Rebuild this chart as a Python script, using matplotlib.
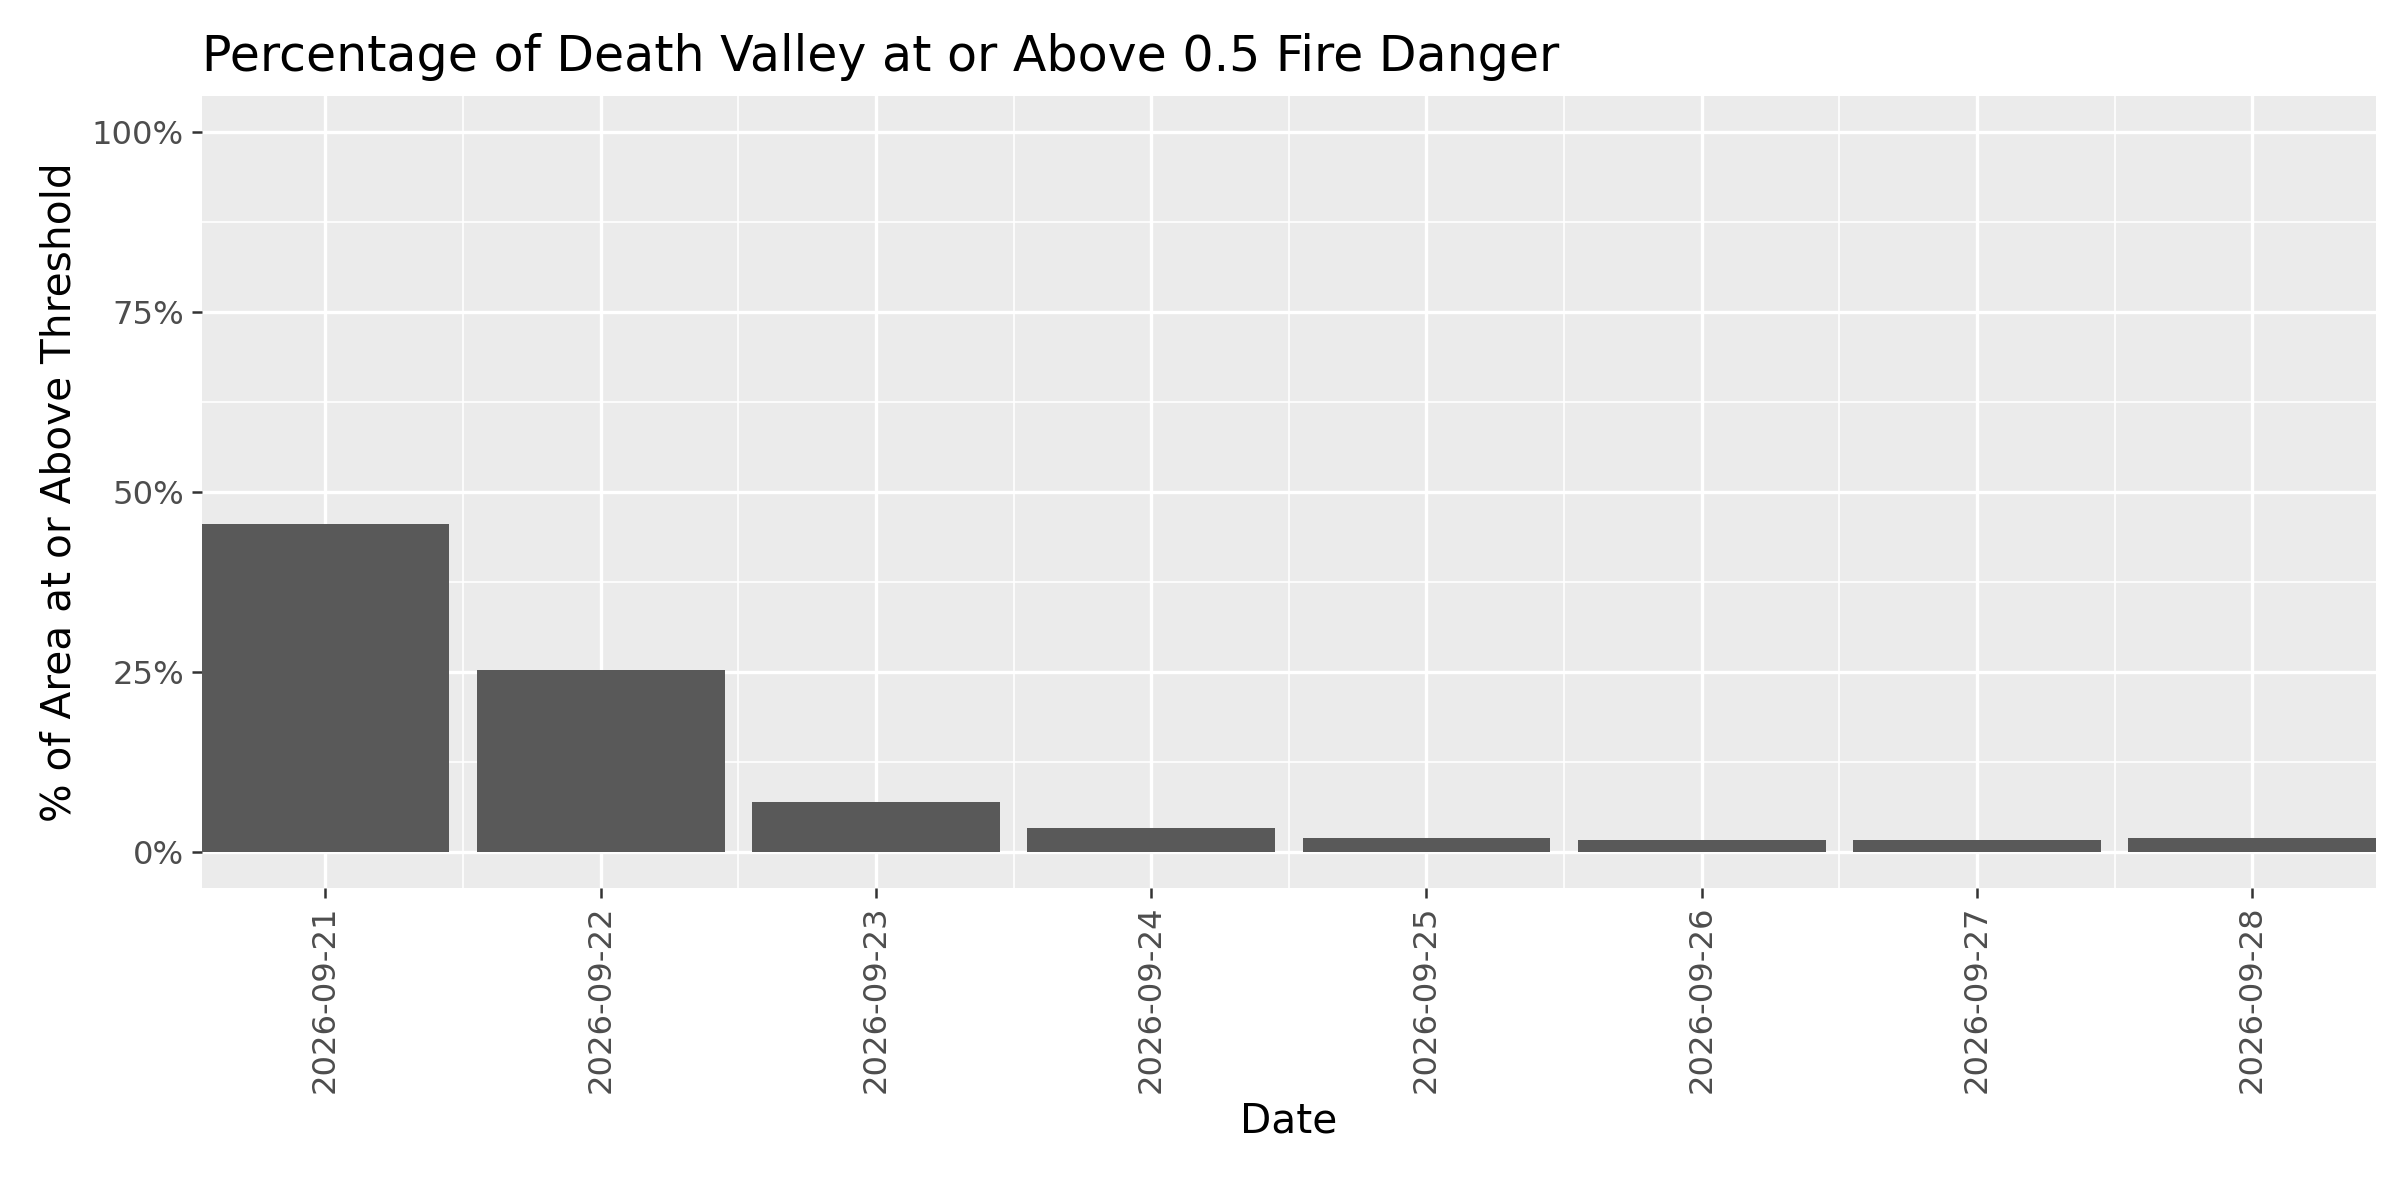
import matplotlib
matplotlib.use("Agg")
import matplotlib.pyplot as plt
from matplotlib.ticker import FixedLocator

dates = ["2026-09-21","2026-09-22","2026-09-23","2026-09-24","2026-09-25","2026-09-26","2026-09-27","2026-09-28"]
values = [45.5, 25.3, 7.0, 3.4, 1.9, 1.6, 1.6, 1.9]
yticks = [0, 25, 50, 75, 100]
ylabels = ["0%", "25%", "50%", "75%", "100%"]

plt.rcParams['font.family'] = ['DejaVu Sans']
fig = plt.figure(figsize=(16, 8), dpi=150)
ax = fig.add_axes([0.084, 0.26, 0.906, 0.66])
ax.set_facecolor("#EBEBEB")
x = list(range(len(dates)))
ax.bar(x, values, width=0.9, color="#595959", zorder=3)
ax.set_xlim(-0.45, len(dates) - 0.55)
ax.set_ylim(-5, 105)
ax.yaxis.set_major_locator(FixedLocator(yticks))
ax.yaxis.set_minor_locator(FixedLocator([12.5, 37.5, 62.5, 87.5]))
ax.xaxis.set_minor_locator(FixedLocator([i + 0.5 for i in x[:-1]]))
ax.set_xticks(x)
ax.set_xticklabels(dates, rotation=90)
ax.set_yticklabels(ylabels)
ax.grid(which="major", color="white", linewidth=1.6, zorder=0)
ax.grid(which="minor", color="white", linewidth=0.8, zorder=0)
ax.set_axisbelow(True)
for s in ax.spines.values():
    s.set_visible(False)
ax.tick_params(axis="both", which="major", colors="#333333", labelcolor="#4D4D4D",
               labelsize=15.5, length=5, width=1.2)
ax.tick_params(which="minor", length=0)
ax.set_xlabel("Date", fontsize=19.5, labelpad=4)
ax.set_ylabel("% of Area at or Above Threshold", fontsize=19.5, labelpad=6)
ax.set_title("Percentage of Death Valley at or Above 0.5 Fire Danger", fontsize=23.5, loc="left", pad=12)
fig.savefig("out.png", dpi=150)
